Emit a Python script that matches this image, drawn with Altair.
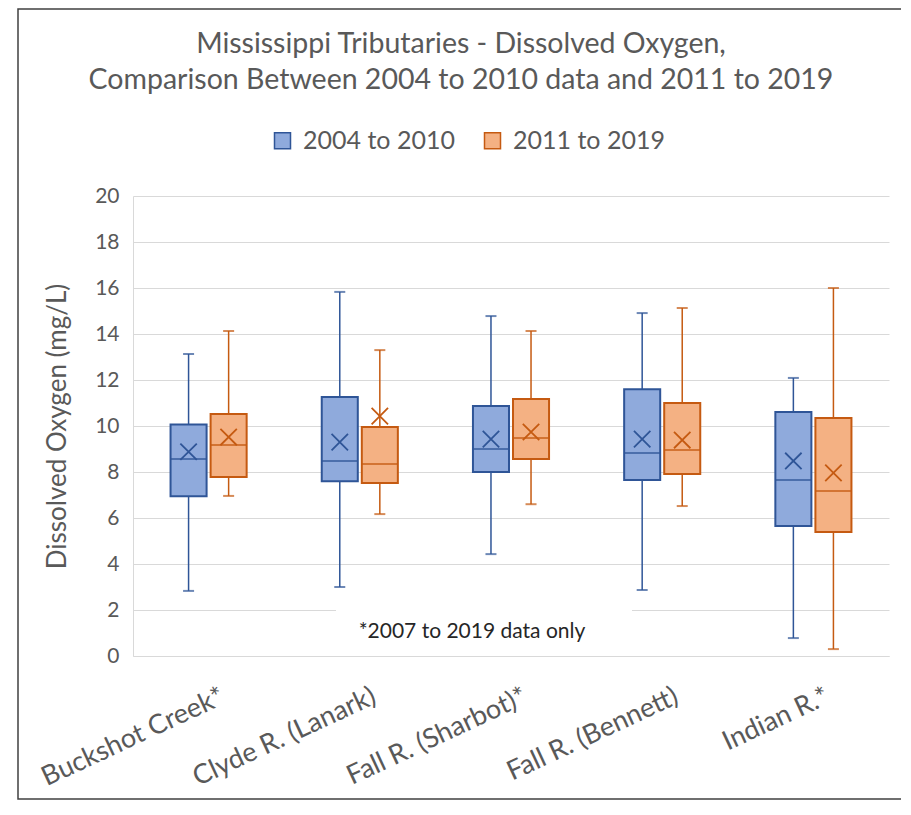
import altair as alt
import pandas as pd

sites = ["Buckshot Creek*", "Clyde R. (Lanark)", "Fall R. (Sharbot)*", "Fall R. (Bennett)", "Indian R.*"]
periods = ["2004 to 2010", "2011 to 2019"]

# 2004 to 2010
p1_min = [2.83, 3.0, 4.43, 2.87, 0.78]
p1_q1 = [6.95, 7.6, 8.0, 7.65, 5.65]
p1_med = [8.57, 8.48, 9.0, 8.83, 7.65]
p1_q3 = [10.07, 11.26, 10.87, 11.6, 10.61]
p1_max = [13.13, 15.83, 14.78, 14.91, 12.09]
p1_mean = [8.88, 9.3, 9.43, 9.43, 8.48]

# 2011 to 2019
p2_min = [6.96, 6.17, 6.6, 6.52, 0.3]
p2_q1 = [7.78, 7.52, 8.57, 7.91, 5.39]
p2_med = [9.17, 8.35, 9.48, 8.96, 7.17]
p2_q3 = [10.52, 9.96, 11.17, 11.0, 10.35]
p2_max = [14.13, 13.3, 14.13, 15.13, 16.0]
p2_mean = [9.52, 10.43, 9.74, 9.39, 7.96]

y_ticks = [0, 2, 4, 6, 8, 10, 12, 14, 16, 18, 20]

rows = []
for p, stats in zip(periods, [
    (p1_min, p1_q1, p1_med, p1_q3, p1_max, p1_mean),
    (p2_min, p2_q1, p2_med, p2_q3, p2_max, p2_mean),
]):
    for i, s in enumerate(sites):
        rows.append({
            "site": s, "period": p, "grp": p,
            "min": stats[0][i], "q1": stats[1][i], "median": stats[2][i],
            "q3": stats[3][i], "max": stats[4][i], "mean": stats[5][i],
        })
df = pd.DataFrame(rows)

FONT = "Lato"
GREY = "#595959"
GRID = "#d9d9d9"
fills = ["#8FAADC", "#F4B183"]
strokes = ["#2F5597", "#C55A11"]

x_enc = alt.X(
    "site:N", sort=sites,
    scale=alt.Scale(paddingInner=0, paddingOuter=0),
    axis=alt.Axis(
        title=None, labelAngle=-25, labelAlign="right", labelBaseline="top",
        labelFontSize=27, labelColor=GREY, labelFont=FONT, ticks=False,
        domain=True, domainColor=GRID, labelPadding=27, labelOffset=9,
        labelLimit=400,
    ),
)
xoff = alt.XOffset("period:N", sort=periods,
                   scale=alt.Scale(paddingInner=0.1, paddingOuter=0.9375))
yscale = alt.Scale(domain=[0, 20], nice=False)
line_color = alt.Color("grp:N", sort=periods,
                       scale=alt.Scale(range=strokes), legend=None)

legend_cfg = dict(title=None, orient="none", direction="horizontal",
                  legendX=137, legendY=-68, symbolType="square",
                  symbolSize=256, symbolStrokeWidth=1.5,
                  labelFontSize=25, labelFont=FONT, labelColor=GREY,
                  labelOffset=8, columnPadding=25)

base = alt.Chart(df)

whisker = base.mark_rule(strokeWidth=1.5).encode(
    x=x_enc, xOffset=xoff,
    y=alt.Y("min:Q", scale=yscale, axis=alt.Axis(
        title="Dissolved Oxygen (mg/L)", values=y_ticks, grid=True, gridColor=GRID,
        ticks=False, domain=True, domainColor=GRID, labelFontSize=21,
        labelColor=GREY, labelFont=FONT, labelPadding=14,
        titleFont=FONT, titleFontSize=26, titleColor=GREY,
        titleFontWeight="normal", titlePadding=24,
    )),
    y2="max:Q",
    color=line_color,
)

cap_lo = base.mark_tick(size=11, thickness=2).encode(
    x=x_enc, xOffset=xoff, y=alt.Y("min:Q", scale=yscale), color=line_color)
cap_hi = base.mark_tick(size=11, thickness=2).encode(
    x=x_enc, xOffset=xoff, y=alt.Y("max:Q", scale=yscale), color=line_color)

box = base.mark_bar(strokeWidth=2).encode(
    x=x_enc, xOffset=xoff,
    y=alt.Y("q1:Q", scale=yscale), y2="q3:Q",
    fill=alt.Fill("period:N", sort=periods,
                  scale=alt.Scale(domain=periods, range=fills),
                  legend=alt.Legend(**legend_cfg)),
    stroke=alt.Stroke("period:N", sort=periods,
                      scale=alt.Scale(domain=periods, range=strokes),
                      legend=alt.Legend(**legend_cfg)),
)

median = base.mark_tick(size=36, thickness=2).encode(
    x=x_enc, xOffset=xoff, y=alt.Y("median:Q", scale=yscale), color=line_color)

mean = base.mark_point(shape="M-1,-1L1,1M1,-1L-1,1", size=270, strokeWidth=1.8,
                       filled=False, opacity=1).encode(
    x=x_enc, xOffset=xoff, y=alt.Y("mean:Q", scale=yscale), color=line_color)

note_bg = alt.Chart(pd.DataFrame({"v": [0]})).mark_rect(color="white").encode(
    x=alt.value(203), x2=alt.value(499),
    y=alt.datum(1.6), y2=alt.datum(2.4),
)
note = alt.Chart(pd.DataFrame({"t": ["*2007 to 2019 data only"]})).mark_text(
    font=FONT, fontSize=21, color="#262626", align="center", baseline="middle",
).encode(x=alt.value(339), y=alt.datum(1.05), text="t:N")

frame = alt.Chart(pd.DataFrame({"v": [0]})).mark_rect(
    filled=False, stroke="#404040", strokeWidth=1.5).encode(
    x=alt.value(-115), x2=alt.value(772), y=alt.value(-187), y2=alt.value(603),
)

chart = alt.layer(
    note_bg, whisker, cap_lo, cap_hi, box, median, mean, note, frame
).properties(
    width=756, height=460,
    title=alt.TitleParams(
        text=["Mississippi Tributaries - Dissolved Oxygen,",
              "Comparison Between 2004 to 2010 data and 2011 to 2019"],
        font=FONT, fontSize=28.5, fontWeight="normal", color=GREY,
        lineHeight=36, anchor="middle", offset=-86, dx=-50,
    ),
    autosize=alt.AutoSizeParams(type="none"),
    padding={"left": 125, "top": 188, "right": 12, "bottom": 145},
    background="white",
).configure_view(stroke=None)

chart.save("out.html", embed_options={"renderer": "svg", "actions": False})
